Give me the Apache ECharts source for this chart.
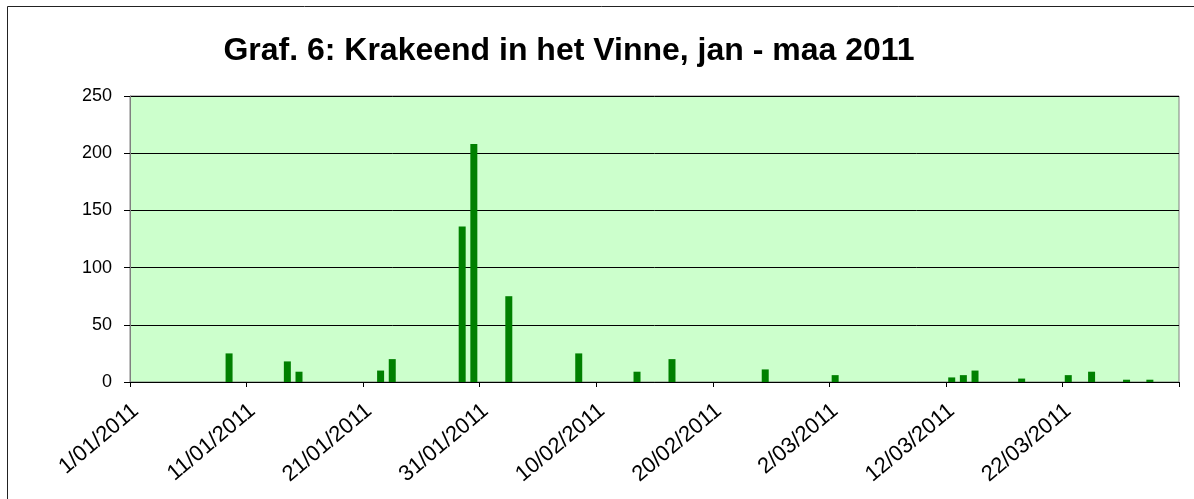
<!DOCTYPE html>
<html>
<head>
<meta charset="utf-8">
<script src="https://cdn.jsdelivr.net/npm/echarts@6/dist/echarts.min.js"></script>
<style>
  html, body { margin: 0; padding: 0; background: #fff; }
  #chart { width: 1194px; height: 499px; }
</style>
</head>
<body>
<div id="chart"></div>
<script>
// observation dates (day, month) and counts
const obsDays   = [9, 14, 15, 22, 23, 29, 30, 2, 8, 13, 16, 24, 2, 12, 13, 14, 18, 22, 24, 27, 29]
const obsMonths = [1, 1, 1, 1, 1, 1, 1, 2, 2, 2, 2, 2, 3, 3, 3, 3, 3, 3, 3, 3, 3]
const obsCounts = [25, 18, 9, 10, 20, 136, 208, 75, 25, 9, 20, 11, 6, 4, 6, 10, 3, 6, 9, 2, 2]

const monthLengths = [31, 28, 31] // jan, feb, maa 2011
const yTicks = [0, 50, 100, 150, 200, 250]

// category per day, 1/01/2011 .. 31/03/2011
const categories = []
monthLengths.forEach((len, m) => {
  for (let d = 1; d <= len; d++) {
    categories.push(d + '/' + String(m + 1).padStart(2, '0') + '/2011')
  }
})

const values = categories.map(() => null)
obsDays.forEach((d, i) => {
  const key = d + '/' + String(obsMonths[i]).padStart(2, '0') + '/2011'
  values[categories.indexOf(key)] = obsCounts[i]
})

const chart = echarts.init(document.getElementById('chart'))
chart.setOption({
  animation: false,
  backgroundColor: '#fff',
  title: {
    text: 'Graf. 6: Krakeend in het Vinne, jan - maa 2011',
    left: 564,
    top: 30,
    textAlign: 'center',
    textStyle: { fontFamily: 'Liberation Sans, Arial', fontWeight: 'bold', fontSize: 32, color: '#000' }
  },
  graphic: [{
    type: 'rect',
    shape: { x: 7.5, y: 6.5, width: 1300, height: 700 },
    style: { fill: 'none', stroke: '#222', lineWidth: 1 },
    silent: true,
    z: -1
  }],
  grid: {
    left: 130, right: 15, top: 96, bottom: 117,
    show: true,
    backgroundColor: '#CCFFCC',
    borderColor: '#808080',
    borderWidth: 1
  },
  xAxis: {
    type: 'category',
    data: categories,
    boundaryGap: true,
    axisLine: { lineStyle: { color: '#000', width: 1 } },
    axisTick: { show: true, interval: 9, length: 5, lineStyle: { color: '#000' } },
    axisLabel: {
      interval: 9,
      rotate: 40,
      margin: 26,
      fontFamily: 'Liberation Sans, Arial',
      fontSize: 22,
      color: '#000'
    },
    splitLine: { show: false }
  },
  yAxis: {
    type: 'value',
    min: yTicks[0],
    max: yTicks[yTicks.length - 1],
    interval: 50,
    axisLine: { show: true, lineStyle: { color: '#808080' } },
    axisTick: { show: true, length: 6, lineStyle: { color: '#000' } },
    axisLabel: { margin: 18, fontFamily: 'Liberation Sans, Arial', fontSize: 18, color: '#000' },
    splitLine: { show: true, lineStyle: { color: '#000', width: 1 } }
  },
  series: [{
    type: 'bar',
    data: values,
    barWidth: 7,
    itemStyle: { color: '#008000' }
  }]
})
</script>
</body>
</html>
